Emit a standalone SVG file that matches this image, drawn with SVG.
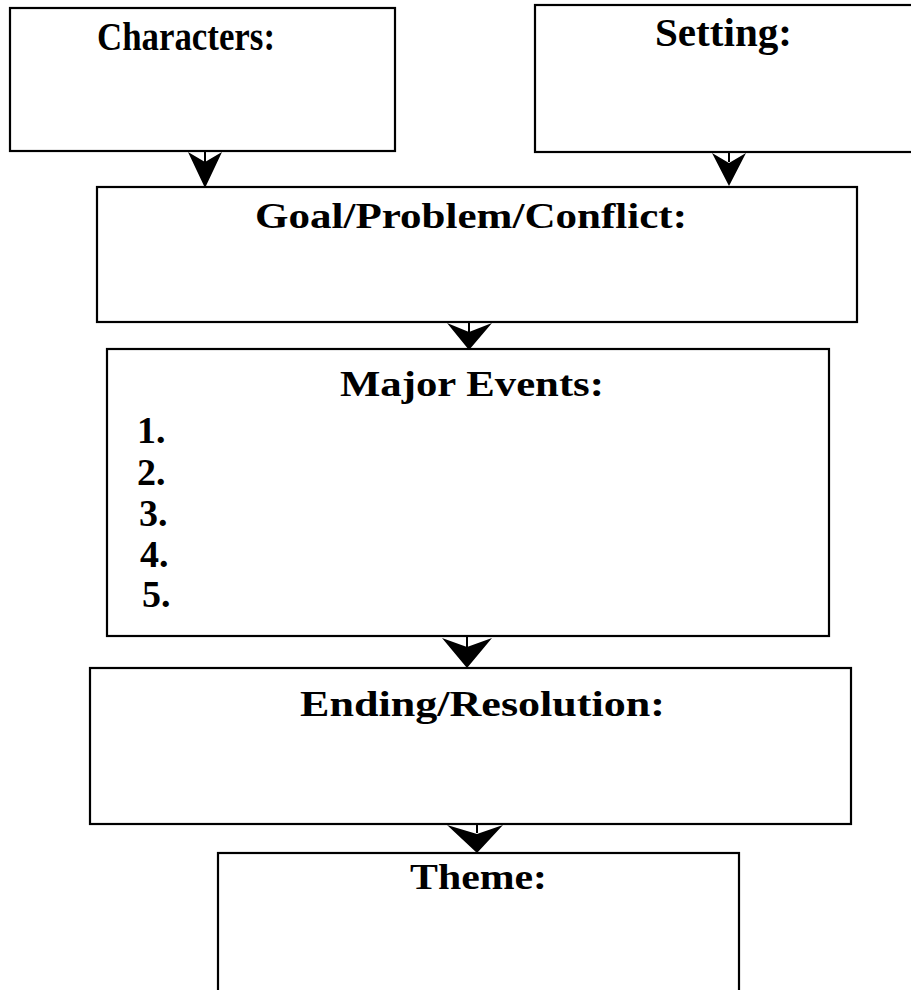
<svg xmlns="http://www.w3.org/2000/svg" width="911" height="990" viewBox="0 0 911 990">
<style>
.box{fill:#fff;stroke:#000;stroke-width:2.2}
.t{font-family:"Liberation Serif","Times New Roman",serif;font-weight:bold;font-size:36px;fill:#000}
.tall{font-size:40px}
.num{font-size:38px}
.arr{fill:#000;stroke:none}
.stem{stroke:#000;stroke-width:2}
</style>
<rect width="911" height="990" fill="#fff"/>
<g id="characters"><rect class="box" x="10" y="8" width="385" height="143"/><text class="t tall" x="97" y="50" textLength="178" lengthAdjust="spacingAndGlyphs">Characters:</text></g>
<g id="setting"><rect class="box" x="535" y="5" width="380" height="147"/><text class="t tall" x="655" y="46" textLength="137" lengthAdjust="spacingAndGlyphs">Setting:</text></g>
<g id="goal"><rect class="box" x="97" y="187" width="760" height="135"/><text class="t" x="255" y="228" textLength="432" lengthAdjust="spacingAndGlyphs">Goal/Problem/Conflict:</text></g>
<g id="events"><rect class="box" x="107" y="349" width="722" height="287"/><text class="t" x="340" y="396" textLength="264" lengthAdjust="spacingAndGlyphs">Major Events:</text>
<text class="t num" x="137" y="443">1.</text><text class="t num" x="137" y="485">2.</text><text class="t num" x="139" y="526">3.</text><text class="t num" x="140" y="567">4.</text><text class="t num" x="142" y="607">5.</text></g>
<g id="ending"><rect class="box" x="90" y="668" width="761" height="156"/><text class="t" x="300" y="716" textLength="365" lengthAdjust="spacingAndGlyphs">Ending/Resolution:</text></g>
<g id="theme"><rect class="box" x="218" y="853" width="521" height="145"/><text class="t" x="410" y="889" textLength="137" lengthAdjust="spacingAndGlyphs">Theme:</text></g>
<g id="connectors">
<line class="stem" x1="205" y1="151" x2="205" y2="162"/><polygon class="arr" points="188,152 205,162 222,152 205,188"/>
<line class="stem" x1="729" y1="152" x2="729" y2="162"/><polygon class="arr" points="712,153 729,163 746,153 729,186"/>
<line class="stem" x1="469" y1="322" x2="469" y2="332"/><polygon class="arr" points="447,323 469,332 492,323 469,350"/>
<line class="stem" x1="467" y1="636" x2="467" y2="647"/><polygon class="arr" points="442,638 467,647 492,638 467,668"/>
<line class="stem" x1="477" y1="824" x2="477" y2="833"/><polygon class="arr" points="447,825 477,834 503,825 477,853"/>
</g>
</svg>
